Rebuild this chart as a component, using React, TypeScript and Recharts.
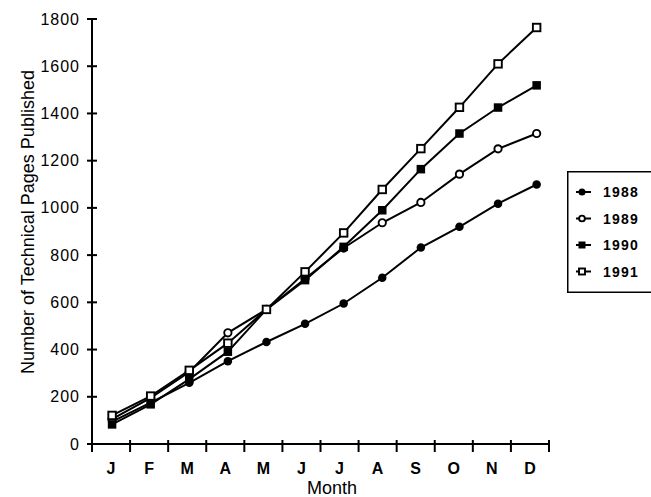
import React from 'react';
import { LineChart, Line, XAxis, YAxis, Legend, Label } from 'recharts';

const months = ['J', 'F', 'M', 'A', 'M', 'J', 'J', 'A', 'S', 'O', 'N', 'D'];
const pages1988 = [95, 175, 259, 351, 432, 509, 595, 704, 832, 920, 1018, 1099];
const pages1989 = [105, 195, 305, 471, 570, 700, 830, 937, 1023, 1143, 1250, 1315];
const pages1990 = [83, 168, 275, 391, 570, 694, 835, 990, 1164, 1315, 1425, 1519];
const pages1991 = [121, 203, 312, 427, 570, 729, 894, 1078, 1251, 1426, 1610, 1764];
const yTicks = [0, 200, 400, 600, 800, 1000, 1200, 1400, 1600, 1800];
const years = ['1988', '1989', '1990', '1991'];

const FONT = '"Liberation Sans", Arial, Helvetica, sans-serif';

const data = months.map((m, i) => ({
    idx: i,
    month: m,
    y1988: pages1988[i],
    y1989: pages1989[i],
    y1990: pages1990[i],
    y1991: pages1991[i],
}));

// month bands: tick marks on the boundaries, letters in the middle
const xMin = -0.52;
const xMax = 11.32;
const step = (xMax - xMin) / months.length;
const boundaries = Array.from({ length: months.length + 1 }, (_, k) => xMin + k * step);
const centers = months.map((_, k) => xMin + (k + 0.5) * step);
const xTicks = [...boundaries, ...centers].sort((a, b) => a - b);

type Shape = 'circle' | 'square';

const Marker = ({ cx, cy, shape, filled, size }: { cx: number; cy: number; shape: Shape; filled: boolean; size: number }) => {
    const fill = filled ? '#000' : '#fff';
    const sw = filled ? 0 : 1.9;
    if (shape === 'circle') {
        return <circle cx={cx} cy={cy} r={filled ? size / 2 : size / 2 - 0.6} fill={fill} stroke="#000" strokeWidth={sw} />;
    }
    const s = filled ? size : size - 1;
    return <rect x={cx - s / 2} y={cy - s / 2} width={s} height={s} fill={fill} stroke="#000" strokeWidth={sw} />;
};

const makeDot = (shape: Shape, filled: boolean) => (props: any) => {
    const { cx, cy, index } = props;
    if (cx == null || cy == null) return <g key={`e-${index}`} />;
    return (
        <g key={`d-${index}`}>
            <Marker cx={cx} cy={cy} shape={shape} filled={filled} size={8.5} />
        </g>
    );
};

const series = [
    { key: 'y1988', name: years[0], shape: 'circle' as Shape, filled: true },
    { key: 'y1989', name: years[1], shape: 'circle' as Shape, filled: false },
    { key: 'y1990', name: years[2], shape: 'square' as Shape, filled: true },
    { key: 'y1991', name: years[3], shape: 'square' as Shape, filled: false },
];

const XTick = (props: any) => {
    const { x, y, payload } = props;
    const v = payload.value;
    const ci = centers.findIndex((c) => Math.abs(c - v) < 1e-6);
    if (ci >= 0) {
        return (
            <text x={x} y={y + 30} textAnchor="middle" fontFamily={FONT} fontWeight="bold" fontSize={16} fill="#000">
                {months[ci]}
            </text>
        );
    }
    return <line x1={x} x2={x} y1={y - 4} y2={y + 8} stroke="#000" strokeWidth={2} />;
};

const YTick = (props: any) => {
    const { x, y, payload } = props;
    return (
        <g>
            <line x1={x - 5} x2={x + 5} y1={y} y2={y} stroke="#000" strokeWidth={2} />
            <text x={x - 12} y={y + 5.5} textAnchor="end" fontFamily={FONT} fontSize={16} letterSpacing={1} fill="#000">
                {payload.value}
            </text>
        </g>
    );
};

const LegendBox = () => (
    <svg width={84} height={122} style={{ display: 'block', overflow: 'hidden' }}>
        <path d="M90 0.75 H0.75 V121.25 H90" fill="#fff" stroke="#000" strokeWidth={1.5} />
        {series.map((s, i) => {
            const cy = 21 + i * 26.5;
            return (
                <g key={s.key}>
                    <line x1={9} x2={24} y1={cy} y2={cy} stroke="#000" strokeWidth={2} />
                    <Marker cx={15} cy={cy} shape={s.shape} filled={s.filled} size={7} />
                    <text x={36} y={cy + 5} fontFamily={FONT} fontWeight="bold" fontSize={14} letterSpacing={1.2} fill="#000">
                        {s.name}
                    </text>
                </g>
            );
        })}
    </svg>
);

export default function App() {
    return (
        <div style={{ position: 'absolute', left: 0, top: 0, background: '#fff' }}>
            <LineChart width={651} height={497} data={data} margin={{ top: 19, right: 102, bottom: 0, left: 0 }}>
                <XAxis
                    dataKey="idx"
                    type="number"
                    domain={[xMin, xMax]}
                    ticks={xTicks}
                    interval={0}
                    tick={XTick}
                    tickLine={false}
                    tickSize={0}
                    tickMargin={0}
                    height={53}
                    axisLine={{ stroke: '#000', strokeWidth: 2 }}
                >
                    <Label
                        content={() => (
                            <text x={332} y={494} textAnchor="middle" fontFamily={FONT} fontSize={18} fill="#000">
                                Month
                            </text>
                        )}
                    />
                </XAxis>
                <YAxis
                    type="number"
                    domain={[0, 1800]}
                    ticks={yTicks}
                    interval={0}
                    tick={YTick}
                    tickLine={false}
                    tickSize={0}
                    tickMargin={0}
                    width={92}
                    axisLine={{ stroke: '#000', strokeWidth: 2 }}
                >
                    <Label
                        content={() => (
                            <text
                                x={0}
                                y={0}
                                transform="translate(34,222) rotate(-90)"
                                textAnchor="middle"
                                fontFamily={FONT}
                                fontSize={18}
                                fill="#000"
                            >
                                Number of Technical Pages Published
                            </text>
                        )}
                    />
                </YAxis>
                <Legend
                    layout="vertical"
                    align="center"
                    verticalAlign="middle"
                    content={() => <LegendBox />}
                    wrapperStyle={{ position: 'absolute', left: 567, top: 171, width: 84, height: 122 }}
                />
                {series.map((s) => (
                    <Line
                        key={s.key}
                        type="linear"
                        dataKey={s.key}
                        name={s.name}
                        stroke="#000"
                        strokeWidth={2}
                        dot={makeDot(s.shape, s.filled)}
                        activeDot={false}
                        isAnimationActive={false}
                    />
                ))}
            </LineChart>
        </div>
    );
}
